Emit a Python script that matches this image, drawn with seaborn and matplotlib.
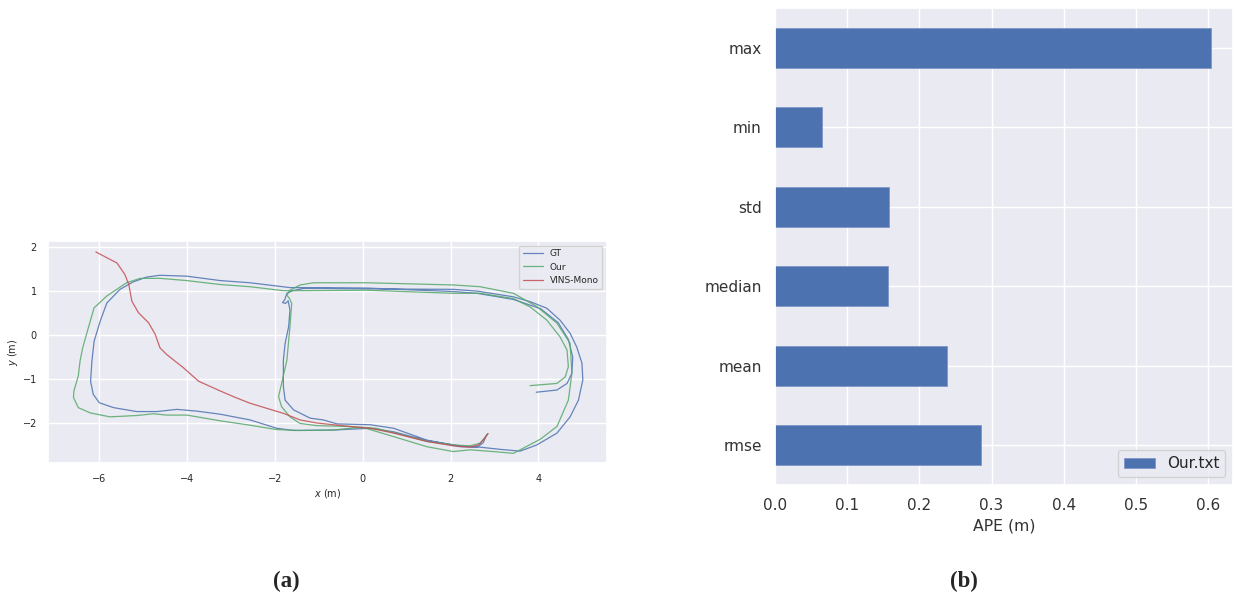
import matplotlib
matplotlib.use("Agg")
import matplotlib.pyplot as plt
import numpy             as np
import pandas            as pd
import seaborn           as sns

# ---- (a) trajectories (metres) ----
gt_x = [3.95, 4.42, 4.65, 4.76, 4.78, 4.68, 4.45, 4.05, 3.43, 2.60, 2.06, 0.09, -1.00, -1.66,
        -2.57, -3.25, -4.01, -4.62, -4.92, -5.23, -5.53, -5.83, -5.98, -6.12, -6.17, -6.20,
        -6.14, -6.00, -5.68, -5.15, -4.69, -4.24, -3.78, -3.25, -2.57, -1.96, -1.58, -0.67,
        0.17, 0.70, 1.46, 2.22, 2.67, 3.13, 3.58, 3.96, 4.42, 4.72, 4.91, 5.01, 4.99, 4.87,
        4.72, 4.49, 4.19, 3.81, 3.43, 2.60, 2.06, 0.09, -1.00, -1.35, -1.60, -1.73, -1.78,
        -1.83, -1.76, -1.70, -1.66, -1.69, -1.77, -1.81, -1.81, -1.77, -1.58, -1.20, -0.90,
        -0.59, 0.17, 0.70, 1.46, 2.22, 2.60, 2.74, 2.82]
gt_y = [-1.30, -1.25, -1.10, -0.87, -0.50, -0.10, 0.28, 0.60, 0.81, 0.95, 0.99, 1.07, 1.08, 1.08,
        1.19, 1.24, 1.34, 1.36, 1.32, 1.21, 1.04, 0.73, 0.32, -0.14, -0.59, -1.05,
        -1.35, -1.54, -1.65, -1.74, -1.74, -1.69, -1.73, -1.80, -1.93, -2.12, -2.17, -2.16,
        -2.12, -2.20, -2.40, -2.52, -2.55, -2.60, -2.64, -2.50, -2.23, -1.86, -1.48, -1.02,
        -0.64, -0.27, 0.04, 0.34, 0.61, 0.76, 0.87, 1.00, 1.04, 1.05, 1.06, 1.06, 1.01, 0.95,
        0.80, 0.74, 0.72, 0.78, 0.57, 0.19, -0.19, -0.57, -1.17, -1.48, -1.70, -1.89, -1.93,
        -2.02, -2.04, -2.12, -2.39, -2.54, -2.55, -2.45, -2.27]

our_x = [3.81, 4.42, 4.61, 4.68, 4.65, 4.49, 4.19, 3.81, 3.43, 2.67, 2.06, 0.09, -1.43, -1.81,
         -2.57, -3.25, -4.01, -4.62, -5.07, -5.38, -5.83, -6.12, -6.25, -6.38, -6.44, -6.48,
         -6.58, -6.59, -6.48, -6.21, -5.76, -5.15, -4.77, -4.47, -4.01, -3.25, -2.57, -1.96,
         -1.43, -0.67, -0.29, 0.00, 0.70, 1.46, 2.06, 2.44, 2.97, 3.43, 4.04, 4.42, 4.68,
         4.76, 4.72, 4.42, 3.96, 3.43, 2.67, 2.06, 0.09, -1.12, -1.43, -1.66, -1.73, -1.67,
         -1.62, -1.66, -1.73, -1.85, -1.92, -1.85, -1.66, -1.43, -1.05, -0.29, 0.30, 0.70,
         1.46, 2.06, 2.44, 2.67, 2.85]
our_y = [-1.15, -1.10, -0.95, -0.72, -0.34, -0.04, 0.34, 0.64, 0.83, 0.95, 0.95, 1.02, 1.01, 1.01,
         1.10, 1.15, 1.24, 1.29, 1.29, 1.19, 0.89, 0.62, 0.17, -0.29, -0.59, -0.93,
         -1.27, -1.42, -1.65, -1.77, -1.86, -1.83, -1.79, -1.82, -1.82, -1.95, -2.05, -2.15,
         -2.17, -2.16, -2.12, -2.10, -2.31, -2.54, -2.65, -2.61, -2.65, -2.69, -2.37, -2.08, -1.48,
         -0.87, -0.19, 0.27, 0.65, 0.95, 1.10, 1.14, 1.19, 1.19, 1.14, 1.02, 0.91, 0.83,
         0.72, 0.19, -0.57, -1.10, -1.40, -1.63, -1.86, -2.01, -2.06, -2.08, -2.12, -2.22,
         -2.42, -2.50, -2.52, -2.46, -2.24]

vins_x = [-6.08, -5.60, -5.42, -5.33, -5.26, -5.11, -4.88, -4.73, -4.62, -4.47, -4.09, -3.74,
          -3.25, -2.90, -2.57, -2.11, -1.81, -1.43, -1.05, -0.29, 0.17, 0.70, 1.46, 2.06,
          2.44, 2.63, 2.76, 2.85]
vins_y = [1.89, 1.64, 1.38, 1.15, 0.77, 0.51, 0.28, 0.02, -0.29, -0.44, -0.74, -1.05,
          -1.27, -1.42, -1.55, -1.69, -1.78, -1.93, -2.00, -2.08, -2.12, -2.23, -2.42, -2.52,
          -2.55, -2.50, -2.37, -2.24]

# ---- (b) APE statistics ----
stat_names  = ['max', 'min', 'std', 'median', 'mean', 'rmse']
stat_values = [0.6044, 0.0653, 0.1575, 0.1560, 0.2386, 0.2861]

sns.set_theme(style='darkgrid')
pal = sns.color_palette('deep')

fig = plt.figure(figsize=(12.34, 5.98), dpi=100)

# Left panel: trajectories
ax1 = fig.add_axes([48 / 1234, 1 - 463 / 598, (607 - 48) / 1234, (463 - 241) / 598])
for xs, ys, name, col in [(gt_x, gt_y, 'GT', pal[0]),
                          (our_x, our_y, 'Our', pal[2]),
                          (vins_x, vins_y, 'VINS-Mono', pal[3])]:
    sns.lineplot(x=xs, y=ys, sort=False, estimator=None, ax=ax1,
                 color=col, linewidth=0.9, alpha=0.85, label=name)
ax1.set_xlim(-7.17, 5.56)
ax1.set_ylim(-2.91, 2.14)
ax1.set_xticks([-6, -4, -2, 0, 2, 4])
ax1.set_yticks([-2, -1, 0, 1, 2])
ax1.tick_params(labelsize=7, pad=2)
ax1.set_xlabel('$x$ (m)', fontsize=7, labelpad=2)
ax1.set_ylabel('$y$ (m)', fontsize=7, labelpad=2)
ax1.legend(loc='upper right', fontsize=6.5, handlelength=2.2, borderpad=0.4, labelspacing=0.5)

# Right panel: APE bars
ax2 = fig.add_axes([775 / 1234, 1 - 485 / 598, (1233 - 775) / 1234, (485 - 8) / 598])
ape = pd.DataFrame({'stat': stat_names, 'value': stat_values})
sns.barplot(data=ape, x='value', y='stat', orient='h', width=0.5,
            color=pal[0], saturation=1, edgecolor='#7f97c8', linewidth=0.6,
            label='Our.txt', ax=ax2, zorder=2)
ax2.grid(True, axis='both')
ax2.set_axisbelow(True)
ax2.set_xlim(0, max(stat_values) * 1.05)
ax2.set_xticks(np.arange(0, 0.61, 0.1))
ax2.set_xticklabels(['0.0', '0.1', '0.2', '0.3', '0.4', '0.5', '0.6'])
ax2.tick_params(labelsize=11, colors='#333333')
ax2.set_xlabel('APE (m)', fontsize=11.3, color='#333333')
ax2.set_ylabel('')
ax2.legend(loc='lower right', fontsize=11)

fig.text(286 / 1234, 1 - 581 / 598, '(a)', ha='center', va='center',
         fontsize=16.5, weight='bold', family='Liberation Serif')
fig.text(964 / 1234, 1 - 581 / 598, '(b)', ha='center', va='center',
         fontsize=16.5, weight='bold', family='Liberation Serif')

plt.savefig('out.png', dpi=100)
